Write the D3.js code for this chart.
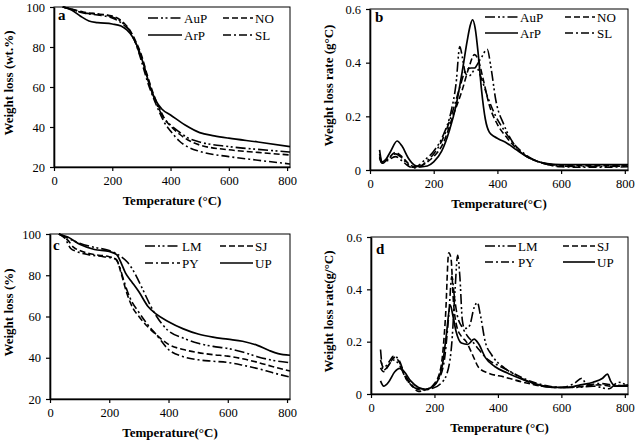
<!DOCTYPE html>
<html><head><meta charset="utf-8">
<script src="https://cdn.jsdelivr.net/npm/d3@7"></script>
<style>body{margin:0;background:#fff}svg{display:block}text{font-family:"Liberation Serif","Times New Roman",serif;fill:#000}</style>
</head><body>
<svg id="c" width="638" height="442"></svg>
<script>
// ---------- DATA ----------
const xTicks = [0, 200, 400, 600, 800];
const tgaTicks = [20, 40, 60, 80, 100];
const dtgTicks = [0, 0.2, 0.4, 0.6];

// Panel a (TGA, wt.%)
const aAuP = [[30,100],[60,99],[100,97],[150,96.5],[200,95],[240,91.5],[260,88],[280,82],[300,74],[320,65],[340,56],[360,49],[380,44],[400,41],[430,37.5],[460,34.5],[500,32.5],[600,30.2],[700,28.8],[810,27.5]];
const aNO  = [[30,100],[60,99],[100,97.5],[150,96.5],[200,95.5],[240,92],[260,88.5],[280,83],[300,76],[320,66],[340,57],[360,50],[380,44],[400,40.5],[430,36.5],[460,33.5],[500,31],[600,28.6],[700,27.3],[810,26]];
const aArP = [[30,100],[60,98.5],[90,95.5],[120,93],[150,92.2],[200,91.5],[230,90.5],[250,88.5],[270,85],[290,79],[310,70],[330,60],[350,53],[370,49],[400,46],[450,41],[500,37.2],[550,35.6],[600,34.4],[700,32.5],[810,30.2]];
const aSL  = [[30,100],[60,98.8],[100,97],[150,96],[200,94.5],[240,91],[260,88],[280,82],[300,73],[320,63],[340,55],[360,48],[380,42],[400,38],[430,33],[460,30],[500,27.8],[600,25.2],[700,23.4],[810,21.5]];

// Panel b (DTG, g/°C)
const bAuP = [[30,0.06],[38,0.03],[55,0.04],[80,0.06],[100,0.045],[120,0.02],[135,0.01],[150,0.015],[170,0.035],[200,0.07],[230,0.13],[255,0.22],[270,0.32],[282,0.46],[290,0.42],[300,0.36],[310,0.35],[330,0.38],[350,0.42],[368,0.45],[380,0.38],[395,0.26],[420,0.17],[450,0.1],[480,0.06],[520,0.035],[560,0.02],[600,0.015],[700,0.013],[810,0.015]];
const bNO  = [[30,0.05],[38,0.025],[55,0.04],[80,0.065],[100,0.05],[120,0.025],[140,0.012],[160,0.015],[180,0.03],[200,0.05],[230,0.1],[260,0.2],[290,0.3],[310,0.38],[328,0.43],[340,0.41],[355,0.34],[375,0.24],[400,0.17],[430,0.12],[460,0.08],[500,0.045],[550,0.025],[600,0.018],[700,0.016],[810,0.016]];
const bArP = [[30,0.075],[38,0.03],[50,0.04],[65,0.07],[85,0.108],[100,0.09],[120,0.045],[140,0.018],[160,0.012],[180,0.015],[200,0.03],[225,0.07],[250,0.15],[270,0.24],[290,0.37],[305,0.48],[315,0.54],[322,0.56],[330,0.53],[340,0.43],[350,0.3],[362,0.19],[375,0.14],[390,0.125],[405,0.115],[430,0.1],[460,0.075],[500,0.045],[550,0.025],[600,0.02],[700,0.02],[810,0.02]];
const bSL  = [[30,0.045],[38,0.025],[55,0.035],[80,0.05],[100,0.035],[120,0.015],[140,0.008],[160,0.015],[180,0.035],[200,0.06],[230,0.12],[260,0.22],[280,0.3],[300,0.37],[318,0.38],[335,0.38],[350,0.34],[370,0.27],[395,0.2],[420,0.15],[450,0.1],[480,0.065],[520,0.035],[560,0.02],[600,0.012],[700,0.01],[810,0.012]];

// Panel c (TGA, %)
const cLM = [[30,100],[60,98],[100,95.5],[150,93.5],[200,92],[240,89],[260,86.5],[280,82.5],[300,77],[320,71],[340,65],[360,60],[400,53],[450,49.5],[500,47],[550,45.5],[600,44.5],[650,42.8],[700,40.5],[750,38.8],[810,37.6]];
const cSJ = [[30,100],[60,97],[80,93.5],[100,92],[150,90],[200,89],[225,87.5],[240,81],[260,71],[280,64],[300,60],[330,55],[360,51],[400,46.5],[450,44],[500,42.5],[550,41.5],[600,40.8],[650,39.5],[700,37.8],[750,35.8],[810,33.6]];
const cPY = [[30,100],[50,98],[70,93],[90,91.5],[130,90],[180,89],[220,88],[235,84],[250,77],[270,69],[300,62],[330,56],[360,51],[400,44],[450,40.5],[500,39],[550,38.3],[600,37.7],[650,36.4],[700,34.8],[750,32.8],[810,30.6]];
const cUP = [[30,100],[60,98.5],[100,95],[150,92.5],[200,91.5],[225,90],[240,86],[255,81],[275,77],[300,72],[330,65],[360,61],[400,57.5],[450,54],[500,51.5],[550,50],[600,49],[650,48],[700,46],[740,43.5],[770,42],[810,41.2]];

// Panel d (DTG, g/°C)
const dLM = [[30,0.17],[38,0.09],[50,0.1],[70,0.13],[90,0.11],[110,0.06],[130,0.03],[160,0.015],[190,0.02],[220,0.04],[240,0.08],[255,0.2],[265,0.4],[273,0.53],[280,0.45],[288,0.28],[295,0.25],[310,0.26],[325,0.33],[335,0.35],[345,0.3],[360,0.2],[380,0.15],[420,0.1],[460,0.07],[520,0.035],[580,0.025],[640,0.025],[700,0.03],[750,0.02],[780,0.045],[810,0.03]];
const dSJ = [[30,0.1],[40,0.085],[55,0.11],[75,0.14],[90,0.12],[110,0.06],[130,0.03],[150,0.01],[170,0.015],[200,0.04],[220,0.1],[235,0.3],[245,0.54],[252,0.52],[260,0.35],[270,0.26],[285,0.22],[300,0.2],[320,0.15],[340,0.1],[370,0.08],[420,0.065],[480,0.045],[540,0.03],[600,0.025],[680,0.03],[720,0.035],[760,0.03],[810,0.035]];
const dPY = [[30,0.13],[40,0.1],[55,0.12],[72,0.145],[88,0.13],[105,0.08],[125,0.04],[150,0.02],[180,0.02],[210,0.05],[230,0.12],[245,0.3],[255,0.45],[262,0.38],[272,0.3],[290,0.25],[305,0.22],[320,0.2],[340,0.17],[370,0.13],[400,0.11],[440,0.085],[480,0.06],[540,0.035],[600,0.025],[640,0.04],[665,0.06],[680,0.035],[720,0.04],[760,0.035],[810,0.03]];
const dUP = [[30,0.05],[40,0.03],[55,0.045],[75,0.085],[90,0.098],[105,0.085],[125,0.05],[150,0.025],[175,0.018],[195,0.03],[210,0.05],[225,0.11],[237,0.22],[250,0.34],[258,0.3],[268,0.24],[285,0.195],[305,0.19],[325,0.21],[340,0.19],[360,0.14],[390,0.105],[430,0.08],[480,0.055],[530,0.035],[580,0.025],[620,0.025],[660,0.035],[700,0.045],[730,0.06],[745,0.076],[755,0.05],[770,0.03],[810,0.03]];

// ---------- STYLES ----------
const DASH = {solid:null, dash:"6,3", dashdot:"8,3,2,3", dashdotdot:"10,3,2,2.5,2,3"};

const panels = [
  {label:"a", L:54, T:7, R:290, B:167, ydom:[20,100], yt:tgaTicks,
   ytitle:"Weight loss (wt.%)", xtitle:"Temperature (°C)", ytx:13,
   series:[{n:"AuP",d:aAuP,s:"dashdotdot"},{n:"NO",d:aNO,s:"dash"},{n:"ArP",d:aArP,s:"solid"},{n:"SL",d:aSL,s:"dashdot"}],
   leg:{c1:148,c2:223,w1:34,w2:30,r1:18,r2:35}, lab:[58,20]},
  {label:"b", L:370, T:9, R:628, B:170, ydom:[0,0.6], yt:dtgTicks,
   ytitle:"Weight loss rate (g°C)", xtitle:"Temperature(°C)", ytx:333,
   series:[{n:"AuP",d:bAuP,s:"dashdotdot"},{n:"NO",d:bNO,s:"dash"},{n:"ArP",d:bArP,s:"solid"},{n:"SL",d:bSL,s:"dashdot"}],
   leg:{c1:485,c2:565,w1:33,w2:30,r1:17,r2:33}, lab:[375,22]},
  {label:"c", L:50, T:234, R:290, B:399, ydom:[20,100], yt:tgaTicks,
   ytitle:"Weight loss (%)", xtitle:"Temperature(°C)", ytx:13,
   series:[{n:"LM",d:cLM,s:"dashdotdot"},{n:"SJ",d:cSJ,s:"dash"},{n:"PY",d:cPY,s:"dashdot"},{n:"UP",d:cUP,s:"solid"}],
   leg:{c1:145,c2:220,w1:35,w2:33,r1:246,r2:263}, lab:[53,250]},
  {label:"d", L:371, T:237, R:628, B:394, ydom:[0,0.6], yt:dtgTicks,
   ytitle:"Weight loss rate(g/°C)", xtitle:"Temperature (°C)", ytx:333,
   series:[{n:"LM",d:dLM,s:"dashdotdot"},{n:"SJ",d:dSJ,s:"dash"},{n:"PY",d:dPY,s:"dashdot"},{n:"UP",d:dUP,s:"solid"}],
   leg:{c1:485,c2:563,w1:31,w2:32,r1:246,r2:262}, lab:[376,254]}
];

const svg = d3.select("#c");
svg.append("rect").attr("width",638).attr("height",442).attr("fill","#fff");

panels.forEach(p => {
  const x = d3.scaleLinear().domain([0,810]).range([p.L,p.R]);
  const y = d3.scaleLinear().domain(p.ydom).range([p.B,p.T]);
  const g = svg.append("g");
  // frame
  g.append("rect").attr("x",p.L).attr("y",p.T).attr("width",p.R-p.L).attr("height",p.B-p.T)
    .attr("fill","none").attr("stroke","#000").attr("stroke-width",1);
  const fmt = p.ydom[1] > 1 ? d3.format("d") : (d => d===0 ? "0" : d3.format(".1f")(d));
  const ax = g.append("g").attr("transform",`translate(0,${p.B})`)
    .call(d3.axisBottom(x).tickValues(xTicks).tickSize(4).tickSizeOuter(0).tickPadding(5));
  const ay = g.append("g").attr("transform",`translate(${p.L},0)`)
    .call(d3.axisLeft(y).tickValues(p.yt).tickFormat(fmt).tickSize(4).tickSizeOuter(0).tickPadding(5));
  [ax,ay].forEach(a => {
    a.select(".domain").attr("stroke","#000").attr("stroke-width",1.6);
    a.selectAll(".tick line").attr("stroke","#000").attr("stroke-width",1.2);
    a.selectAll(".tick text").style("font-family",'"Liberation Serif",serif').style("font-size","12.5px").attr("fill","#000");
  });
  // lines
  const line = d3.line().x(d=>x(d[0])).y(d=>y(d[1])).curve(d3.curveMonotoneX);
  p.series.forEach(s => {
    g.append("path").datum(s.d).attr("d",line).attr("fill","none").attr("stroke","#000")
      .attr("stroke-width", s.s==="solid"?1.7:1.6).attr("stroke-dasharray",DASH[s.s]);
  });
  // legend
  const lg = p.leg;
  const pos = [[lg.c1,lg.r1,lg.w1],[lg.c2,lg.r1,lg.w2],[lg.c1,lg.r2,lg.w1],[lg.c2,lg.r2,lg.w2]];
  p.series.forEach((s,i) => {
    const [lx,ly,w] = pos[i];
    g.append("line").attr("x1",lx).attr("x2",lx+w).attr("y1",ly).attr("y2",ly)
      .attr("stroke","#000").attr("stroke-width",1.6).attr("stroke-dasharray",DASH[s.s]);
    g.append("text").attr("x",lx+w+2).attr("y",ly+4.5).style("font-size","13px").text(s.n);
  });
  // panel label
  g.append("text").attr("x",p.lab[0]).attr("y",p.lab[1]).style("font-size","15px").style("font-weight","bold").text(p.label);
  // axis titles
  g.append("text").attr("x",(p.L+p.R)/2).attr("y",p.B+38).attr("text-anchor","middle")
    .style("font-size","13px").style("font-weight","bold").text(p.xtitle);
  g.append("text").attr("transform",`translate(${p.ytx},${(p.T+p.B)/2-4}) rotate(-90)`).attr("text-anchor","middle")
    .style("font-size","13px").style("font-weight","bold").text(p.ytitle);
});
</script>
</body></html>
